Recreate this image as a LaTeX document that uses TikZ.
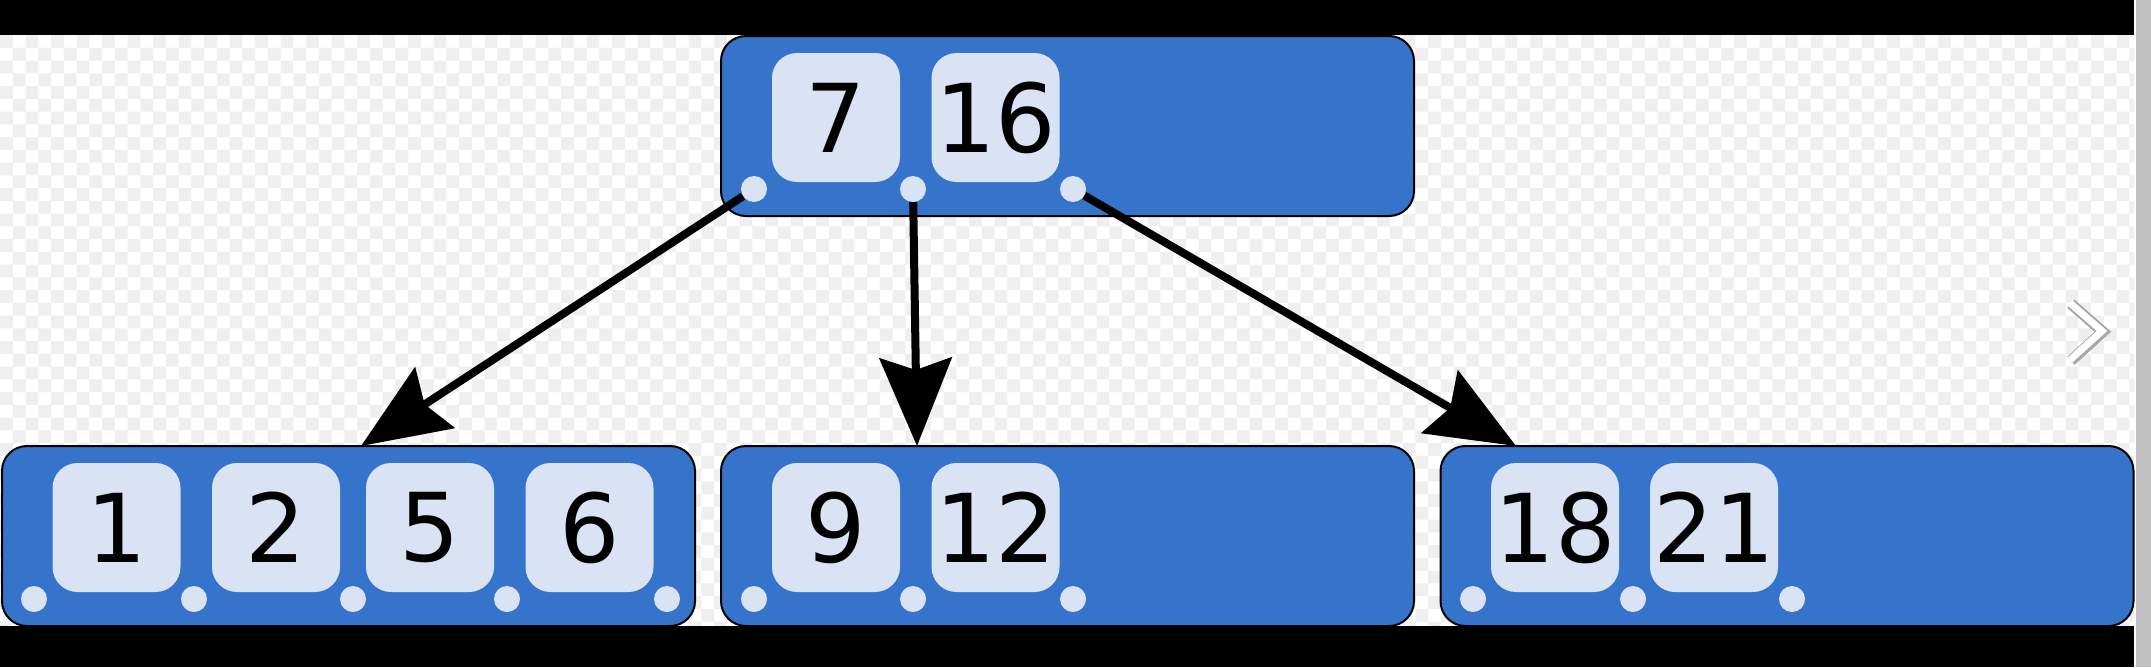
\documentclass[tikz,border=0pt]{standalone}
\usepackage{fontspec}
\setmainfont{DejaVu Sans}
\usetikzlibrary{arrows.meta}

\definecolor{nodeblue}{RGB}{54,115,202}
\definecolor{keyblue}{RGB}{217,227,243}
\definecolor{checkgray}{RGB}{239,239,239}
\definecolor{bargray}{RGB}{192,192,192}

\begin{document}
\begin{tikzpicture}[x=1pt, y=-1pt,
    btnode/.style={draw=black, line width=2pt, fill=nodeblue, rounded corners=25pt, minimum width=693pt, minimum height=180pt, inner sep=0pt},
    keybox/.style={fill=keyblue, rounded corners=25pt, minimum width=128pt, minimum height=129pt, inner sep=0pt, font={\fontsize{95}{100}\selectfont}},
    ptr/.style={circle, fill=keyblue, minimum size=26pt, inner sep=0pt},
    link/.style={line width=8pt, -{Stealth[length=88pt, width=72pt, inset=12pt]}}]
    \useasboundingbox (0,0) rectangle (2151,667);

    % background of the screenshot
    \fill[white] (0,0) rectangle (2151,667);
    \begin{scope}
        \clip (0,35) rectangle (2134,626);
        \fill[checkgray]
            \foreach \i in {0,2,...,166} {\foreach \j in {0,2,...,46} {(\i*12.75, 35+\j*12.75) rectangle ++(12.75,12.75)}}
            \foreach \i in {1,3,...,167} {\foreach \j in {1,3,...,45} {(\i*12.75, 35+\j*12.75) rectangle ++(12.75,12.75)}};
    \end{scope}
    \fill[black] (0,0) rectangle (2134,35);
    \fill[black] (0,626) rectangle (2134,667);
    \fill[bargray] (2136,0) rectangle (2151,667);
    \draw[gray!70, line width=11pt] (2070.8,303.8) -- (2102.8,331.8) -- (2070.8,360.8);
    \draw[white, line width=7pt] (2070,303) -- (2102,331) -- (2070,360);

    % tree nodes
    \node[btnode] (root) at (1067.5,126) {};
    \node[btnode] (leafA) at (348.5,536) {};
    \node[btnode] (leafB) at (1067.5,536) {};
    \node[btnode] (leafC) at (1787,536) {};

    \node[keybox] (k7) at (836,117.5) {7};
    \node[keybox] (k16) at (995.5,117.5) {16};

    \node[keybox] (k1) at (116.5,527.5) {1};
    \node[keybox] (k2) at (276,527.5) {2};
    \node[keybox] (k5) at (430,527.5) {5};
    \node[keybox] (k6) at (589.5,527.5) {6};

    \node[keybox] (k9) at (836,527.5) {9};
    \node[keybox] (k12) at (995.5,527.5) {12};

    \node[keybox] (k18) at (1555,527.5) {18};
    \node[keybox] (k21) at (1714,527.5) {21};

    % child pointers
    \node[ptr] (r0) at (754,189) {};
    \node[ptr] (r1) at (913,189) {};
    \node[ptr] (r2) at (1073,189) {};

    \node[ptr] (a0) at (34,599) {};
    \node[ptr] (a1) at (194,599) {};
    \node[ptr] (a2) at (353,599) {};
    \node[ptr] (a3) at (507,599) {};
    \node[ptr] (a4) at (667,599) {};

    \node[ptr] (b0) at (754,599) {};
    \node[ptr] (b1) at (913,599) {};
    \node[ptr] (b2) at (1073,599) {};

    \node[ptr] (c0) at (1473,599) {};
    \node[ptr] (c1) at (1633,599) {};
    \node[ptr] (c2) at (1792,599) {};

    \coordinate (inA) at (361,446);
    \coordinate (inB) at (917,446);
    \coordinate (inC) at (1516,446);

    \draw[link] (r0) -- (inA);
    \draw[link] (r1) -- (inB);
    \draw[link] (r2) -- (inC);
\end{tikzpicture}
\end{document}
